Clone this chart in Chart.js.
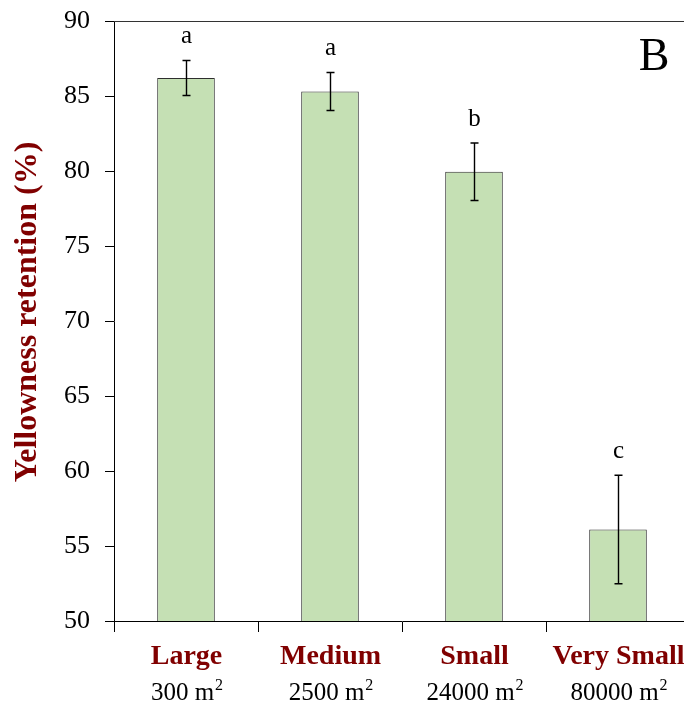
<!DOCTYPE html>
<html>
<head>
<meta charset="utf-8">
<script src="https://cdn.jsdelivr.net/npm/chart.js@4"></script>
<style>
  html, body { margin: 0; padding: 0; overflow: hidden; background: #fff; }
  canvas { display: block; }
</style>
</head>
<body>
<canvas id="chart" width="700" height="706"></canvas>
<script>
const categories = ['Large', 'Medium', 'Small', 'Very Small'];
const areas = ['300', '2500', '24000', '80000'];
const retention = [86.2, 85.3, 79.95, 56.1];
const errors = [1.17, 1.27, 1.92, 3.62];
const letters = ['a', 'a', 'b', 'c'];
const yTicks = [50, 55, 60, 65, 70, 75, 80, 85, 90];

const serif = '"Liberation Serif", "Times New Roman", serif';
const red = '#800000';

// error bars, significance letters, labels and the panel letter
const extras = {
  id: 'extras',
  afterDatasetsDraw(chart) {
    const ctx = chart.ctx;
    const x = chart.scales.x;
    const y = chart.scales.y;
    const area = chart.chartArea;
    ctx.save();

    // top frame line
    ctx.strokeStyle = '#333';
    ctx.lineWidth = 1;
    ctx.beginPath();
    ctx.moveTo(area.left, Math.round(area.top) + 0.5);
    ctx.lineTo(area.right, Math.round(area.top) + 0.5);
    ctx.stroke();

    retention.forEach((v, i) => {
      const cx = Math.round(x.getPixelForValue(i)) + 0.5;
      const top = y.getPixelForValue(v + errors[i]);
      const bot = y.getPixelForValue(v - errors[i]);
      ctx.strokeStyle = '#000';
      ctx.lineWidth = 1.4;
      ctx.beginPath();
      ctx.moveTo(cx, top); ctx.lineTo(cx, bot);
      ctx.moveTo(cx - 4, top); ctx.lineTo(cx + 4, top);
      ctx.moveTo(cx - 4, bot); ctx.lineTo(cx + 4, bot);
      ctx.stroke();

      ctx.fillStyle = '#000';
      ctx.font = '25px ' + serif;
      ctx.textAlign = 'center';
      ctx.textBaseline = 'alphabetic';
      ctx.fillText(letters[i], cx, top - 17);

      // category name
      ctx.fillStyle = red;
      ctx.font = 'bold 28px ' + serif;
      ctx.fillText(categories[i], cx, 664);

      // area with superscript
      ctx.fillStyle = '#000';
      ctx.font = '25px ' + serif;
      const main = areas[i] + ' m';
      const w1 = ctx.measureText(main).width;
      ctx.font = '16px ' + serif;
      const w2 = ctx.measureText('2').width;
      const sx = cx - (w1 + w2) / 2;
      ctx.textAlign = 'left';
      ctx.font = '25px ' + serif;
      ctx.fillText(main, sx, 700);
      ctx.font = '16px ' + serif;
      ctx.fillText('2', sx + w1 + 1, 690);
    });

    // y axis title
    ctx.save();
    ctx.translate(28, 312);
    ctx.rotate(-Math.PI / 2);
    ctx.fillStyle = red;
    ctx.font = 'bold 32px ' + serif;
    ctx.textAlign = 'center';
    ctx.textBaseline = 'middle';
    ctx.fillText('Yellowness retention (%)', 0, 0);
    ctx.restore();

    // panel letter
    ctx.fillStyle = '#000';
    ctx.font = '46px ' + serif;
    ctx.textAlign = 'center';
    ctx.textBaseline = 'alphabetic';
    ctx.fillText('B', 654, 70);

    ctx.restore();
  }
};

new Chart(document.getElementById('chart'), {
  type: 'bar',
  data: {
    labels: categories,
    datasets: [{
      data: retention,
      backgroundColor: '#c5e0b4',
      borderColor: '#2e2e2e',
      borderWidth: 1,
      barPercentage: 0.4,
      categoryPercentage: 1
    }]
  },
  options: {
    responsive: false,
    animation: false,
    layout: { padding: { top: 21, right: 10, left: 0, bottom: 0 } },
    plugins: { legend: { display: false }, tooltip: { enabled: false } },
    scales: {
      x: {
        afterFit: s => { s.height = 85; },
        grid: { offset: true, drawOnChartArea: false, tickLength: 11, color: '#000' },
        border: { color: '#000', width: 1 },
        ticks: { display: false }
      },
      y: {
        min: 50,
        max: 90,
        afterFit: s => { s.width = 114; s.paddingTop = 0; s.paddingBottom = 0; },
        afterBuildTicks: s => { s.ticks = yTicks.map(v => ({ value: v })); },
        grid: { drawOnChartArea: false, tickLength: 9, color: '#000' },
        border: { color: '#000', width: 1 },
        ticks: {
          color: '#000',
          padding: 15,
          font: { family: serif, size: 26 }
        }
      }
    }
  },
  plugins: [extras]
});
</script>
</body>
</html>
